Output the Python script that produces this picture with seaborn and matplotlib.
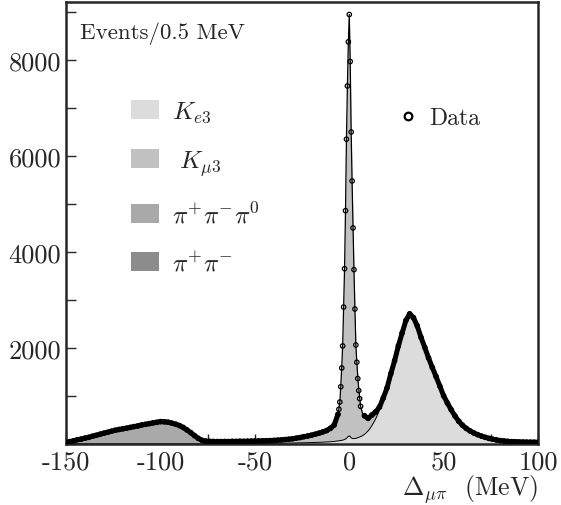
import seaborn as sns
import matplotlib.pyplot as plt
import matplotlib.patches as mpatches
from matplotlib.lines import Line2D
from matplotlib.ticker import MultipleLocator
import numpy as np
import pandas as pd

# fit components (stacked)
x_fit = [-150, -145, -140, -135, -130, -125, -120, -115, -110, -105, -100, -95, -90, -86, -83, -80, -77, -74, -70,
         -60, -50, -40, -30, -25, -20, -15, -12, -10, -8, -7, -6, -5,
         -4.5, -4, -3.5, -3, -2.5, -2, -1.5, -1, -0.5, 0, 0.5, 1, 1.5, 2, 2.5, 3, 3.5, 4, 4.5, 5,
         6, 7, 8, 9, 10, 11, 12,
         14, 16, 18, 20, 22, 24, 26, 28, 30, 32, 34, 36, 38, 40, 42, 44, 46, 48, 50,
         55, 60, 65, 70, 75, 80, 85, 90, 95, 100]
ke3 = [0, 0, 0, 0, 0, 0, 0, 0, 0, 0, 0, 0, 0, 0, 0, 0, 0, 0, 0,
       0, 3, 8, 15, 20, 25, 32, 38, 42, 50, 55, 60, 65,
       68, 72, 76, 82, 90, 100, 115, 135, 155, 165, 150, 125, 112, 108, 108, 110, 115, 120, 126, 133,
       150, 170, 195, 230, 270, 320, 380,
       520, 700, 930, 1145, 1460, 1712, 2034, 2295, 2556, 2697, 2637, 2448, 2228, 2018, 1779, 1599, 1399, 1189, 999,
       630, 380, 250, 160, 100, 65, 45, 38, 33, 30]
kmu3 = [5, 8, 10, 12, 14, 15, 16, 17, 18, 19, 20, 21, 22, 24, 26, 30, 35, 40, 44,
        48, 50, 60, 88, 118, 155, 203, 237, 278, 340, 415, 550, 805,
        1132, 1528, 1974, 2768, 3560, 4750, 6235, 7315, 8195, 8785, 7800, 6375, 5338, 4392, 3492, 2690, 1935, 1580, 1274, 1017,
        630, 470, 385, 310, 265, 240, 220,
        150, 60, 30, 15, 10, 8, 6, 5, 4, 3, 3, 2, 2, 2, 2, 2, 2, 1, 1,
        0, 0, 0, 0, 0, 0, 0, 0, 0, 0]
pi3 = [25, 67, 105, 158, 206, 260, 294, 333, 372, 406, 435, 416, 348, 256, 167, 78, 25, 10, 4,
       2, 2, 2, 2, 2, 0, 0, 0, 0, 0, 0, 0, 0,
       0, 0, 0, 0, 0, 0, 0, 0, 0, 0, 0, 0, 0, 0, 0, 0, 0, 0, 0, 0,
       0, 0, 0, 0, 0, 0, 0,
       0, 0, 0, 0, 0, 0, 0, 0, 0, 0, 0, 0, 0, 0, 0, 0, 0, 0, 0,
       0, 0, 0, 0, 0, 0, 0, 0, 0, 0]
pi2 = [0, 0, 0, 0, 0, 0, 0, 0, 0, 0, 5, 8, 10, 10, 7, 2, 0, 0, 0,
       0, 0, 0, 0, 0, 0, 0, 0, 0, 0, 0, 0, 0,
       0, 0, 0, 0, 0, 0, 0, 0, 0, 0, 0, 0, 0, 0, 0, 0, 0, 0, 0, 0,
       0, 0, 0, 0, 0, 0, 0,
       0, 0, 0, 0, 0, 0, 0, 0, 0, 0, 0, 0, 0, 0, 0, 0, 0, 0, 0,
       0, 0, 0, 0, 0, 0, 0, 0, 0, 0]

# data points
data_x = [-150, -148, -146, -144, -142, -140, -138, -136, -134, -132, -130, -128, -126, -124, -122, -120,
          -118, -116, -114, -112, -110, -108, -106, -104, -102, -100, -98, -96, -94, -92, -90, -88, -86,
          -84, -82, -80, -78, -76, -74, -72, -70, -68, -66, -64, -62, -60, -58, -56, -54, -52, -50, -48,
          -46, -44, -42, -40, -38, -36, -34, -32, -30, -28, -26, -24, -22, -20, -18, -16, -14, -12, -10,
          -8, -6,
          -5.5, -5, -4.5, -4, -3.5, -3, -2.5, -2, -1.5, -1, -0.5, 0, 0.5, 1, 1.5, 2, 2.5, 3, 3.5, 4, 4.5,
          5, 5.5,
          6, 8, 10, 12, 14, 16, 18, 20, 22, 24, 26, 28, 30, 32, 34, 36, 38, 40, 42, 44, 46, 48, 50, 52,
          54, 56, 58, 60, 62, 64, 66, 68, 70, 72, 74, 76, 78, 80, 82, 84, 86, 88, 90, 92, 94, 96, 98, 100]
data_y = [28, 45, 62, 85, 98, 118, 135, 158, 178, 200, 222, 240, 262, 282, 298, 312,
          325, 342, 358, 372, 392, 405, 420, 435, 448, 462, 458, 450, 430, 408, 380, 340, 288,
          232, 170, 112, 72, 55, 50, 48, 47, 46, 48, 47, 50, 49, 52, 51, 53, 55, 56, 58,
          60, 63, 66, 70, 75, 80, 88, 95, 105, 118, 130, 148, 162, 180, 200, 222, 248, 275, 322,
          392, 615,
          720, 870, 1190, 1580, 2040, 2850, 3650, 4860, 6350, 7460, 8380, 8950, 7970, 6500, 5480, 4500, 3630, 2810, 2060, 1700, 1360,
          1110, 940,
          780, 585, 530, 600, 665, 765, 955, 1165, 1460, 1730, 2040, 2310, 2570, 2710, 2630, 2460, 2220, 2010, 1790, 1590, 1400, 1200, 1000, 850,
          710, 580, 470, 385, 320, 268, 225, 190, 160, 135, 112, 95, 80, 66, 58, 50, 45, 42, 38, 36, 34, 33, 32, 30]

labels = [r'$K_{e3}$', r'$\ K_{\mu3}$', r'$\pi^{+}\pi^{-}\pi^{0}$', r'$\pi^{+}\pi^{-}$']
colors = ['#dcdcdc', '#c1c1c1', '#a9a9a9', '#8c8c8c']

df = pd.DataFrame({'x': x_fit, 'ke3': ke3, 'kmu3': kmu3, 'pi3': pi3, 'pi2': pi2})
data = pd.DataFrame({'x': data_x, 'y': data_y})

sns.set_style('ticks')
plt.rcParams['font.family'] = ['cmr10', 'DejaVu Serif']
plt.rcParams['mathtext.fontset'] = 'cm'
plt.rcParams['axes.unicode_minus'] = False

fig = plt.figure(figsize=(5.61, 5.06), dpi=100)
ax = fig.add_axes([0.118, 0.121, 0.841, 0.873])

bottom = np.zeros(len(df))
for col, c in zip(['ke3', 'kmu3', 'pi3', 'pi2'], colors):
    top = bottom + df[col].values
    ax.fill_between(df['x'], bottom, top, color=c, lw=0)
    bottom = top

ax.plot(df['x'], df['ke3'], color='black', lw=0.7)
sns.lineplot(x=df['x'], y=bottom, color='black', lw=0.9, ax=ax)

# dense data shows as a thick band away from the narrow peak
band_l = data[data['x'] <= -6]
band_r = data[data['x'] >= 8]
for part in (band_l, band_r):
    sns.lineplot(data=part, x='x', y='y', color='black', lw=3.6, ax=ax, zorder=4)
sns.scatterplot(data=data, x='x', y='y', marker='o', s=10, facecolor='none',
                edgecolor='black', linewidth=0.9, ax=ax, zorder=5)

ax.set_xlim(-150, 100)
ax.set_ylim(0, 9210)
ax.xaxis.set_major_locator(MultipleLocator(50))
ax.xaxis.set_minor_locator(MultipleLocator(25))
ax.set_yticks([2000, 4000, 6000, 8000])
ax.yaxis.set_minor_locator(MultipleLocator(1000))
ax.tick_params(which='both', direction='in', length=7, width=1.0, labelsize=19,
               top=False, right=False)
ax.tick_params(axis='x', which='major', pad=4)
for s in ax.spines.values():
    s.set_linewidth(1.8)

ax.set_xlabel(r'$\Delta_{\mu\pi}$  (MeV)', fontsize=18.5, loc='right', labelpad=-1)
ax.set_ylabel('')
ax.text(0.03, 0.955, 'Events/0.5 MeV', transform=ax.transAxes, fontsize=16.5, va='top')

handles = [mpatches.Patch(color=c, lw=0) for c in colors]
leg1 = ax.legend(handles, labels, loc='upper left', bbox_to_anchor=(0.09, 0.83), frameon=False,
                 fontsize=18, handlelength=1.1, handleheight=0.8, labelspacing=0.95, handletextpad=0.55)
ax.add_artist(leg1)
dh = Line2D([], [], marker='o', ls='none', mfc='none', mec='black', mew=1.6, ms=5.5)
ax.legend([dh], ['Data'], loc='upper left', bbox_to_anchor=(0.66, 0.81), frameon=False,
          fontsize=17, handlelength=0.8, handletextpad=0.5)

fig.savefig('out.png', dpi=100)
